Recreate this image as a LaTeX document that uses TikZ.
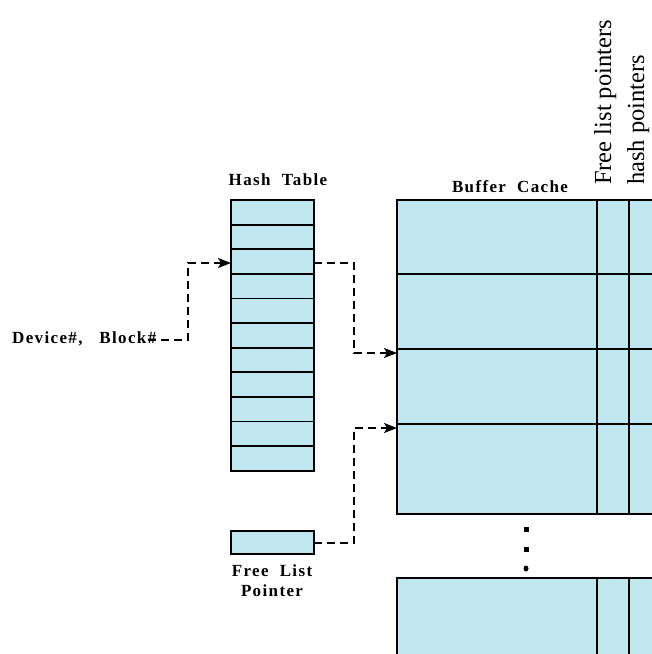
\documentclass[tikz,border=0pt]{standalone}
\usepackage{fontspec}
\setmainfont{Liberation Serif}
\newfontfamily\lblfont[LetterSpace=8]{Liberation Serif Bold}
\usetikzlibrary{arrows.meta}
\definecolor{cellblue}{RGB}{192,230,240}
\tikzset{
  cell/.style={draw=black, fill=cellblue, line width=1.8pt},
  grid/.style={draw=black, line width=1.8pt},
  ptr/.style={draw=black, line width=1.6pt, dash pattern=on 8pt off 5pt, -{Stealth[length=13pt,width=10pt,inset=3pt]}},
  lbl/.style={font=\lblfont\fontsize{17}{20}\selectfont, inner sep=0pt},
  rot/.style={font=\fontsize{24.5}{28}\selectfont, rotate=90, anchor=base west, inner sep=0pt}
}
\begin{document}
\begin{tikzpicture}[x=1pt,y=-1pt]
\useasboundingbox (0,0) rectangle (652,654);
% hash table
\foreach \i in {0,...,10} {
  \path[cell] (231,{200+\i*24.6}) rectangle (314,{200+(\i+1)*24.6});
}
\coordinate (hrow) at (314,263);
\coordinate (hin) at (231,263);
% buffer cache
\path[cell] (397,200) rectangle (660,514);
\foreach \y in {274,349,424} { \draw[grid] (397,\y) -- (660,\y); }
\draw[grid] (597,200) -- (597,514);
\draw[grid] (629,200) -- (629,514);
\path[cell] (397,578) rectangle (660,660);
\draw[grid] (597,578) -- (597,660);
\draw[grid] (629,578) -- (629,660);
\coordinate (b2) at (397,353);
\coordinate (b3) at (397,428);
% free list pointer box
\path[cell] (231,531) rectangle (314,554);
\coordinate (fout) at (314,543);
% dots
\fill (523.5,526.5) rectangle (528.5,531.5);
\fill (523.5,546.5) rectangle (528.5,551.5);
\fill (526,568.5) ellipse (2.5pt and 3pt);
% labels
\node[lbl] (ht) at (278,180) {Hash\ \ Table};
\node[lbl] (bc) at (510,187) {Buffer\ \ Cache};
\node[lbl, anchor=west] (db) at (12,339) {Device\#,\ \ \ Block\#};
\node[lbl] (fl1) at (272,571) {Free\ \ List};
\node[lbl] (fl2) at (272,591) {Pointer};
\node[rot] (flp) at (611,185) {Free list pointers};
\node[rot] (hp) at (644,185) {hash pointers};
% connectors
\coordinate (dbend) at (148,340);
\draw[ptr] (dbend) -- (188,340) -- (188,263) -- (hin);
\draw[ptr] (hrow) -- (354,263) -- (354,353) -- (b2);
\draw[ptr] (fout) -- (354,543) -- (354,428) -- (b3);
\end{tikzpicture}
\end{document}
